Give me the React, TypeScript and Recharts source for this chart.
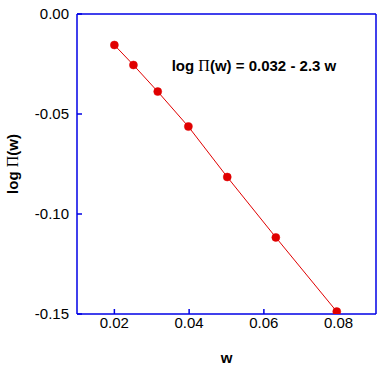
import React from 'react';
import { LineChart, Line, XAxis, YAxis, Label, Customized } from 'recharts';

const wValues = [0.02, 0.0251, 0.0316, 0.0398, 0.0502, 0.0632, 0.0795];
const logPiValues = [-0.0155, -0.0255, -0.0388, -0.0563, -0.0815, -0.1117, -0.1488];
const xTicks = [0.02, 0.04, 0.06, 0.08];
const yTicks = [-0.15, -0.1, -0.05, 0];
const xDomain = [0.01, 0.09];
const yDomain = [-0.15, 0];

const data = wValues.map((w, i) => ({ w, logPi: logPiValues[i] }));

const AXIS = '#0000e6';
const RED = '#e00000';
const FONT = '"Liberation Sans", Arial, Helvetica, sans-serif';
const SERIF = '"Liberation Serif", "Times New Roman", serif';

const tickStyle = { fill: '#000', fontSize: 15, fontFamily: FONT };
const fmt = (v: number) => v.toFixed(2);

const YLabel = (props: any) => {
  const vb = props.viewBox || { x: 0, y: 14, width: 77, height: 300 };
  const cx = 17.5;
  const cy = vb.y + vb.height / 2;
  return (
    <text
      x={cx}
      y={cy}
      transform={`rotate(-90 ${cx} ${cy})`}
      textAnchor="middle"
      fontFamily={FONT}
      fontWeight="bold"
      fontSize={15}
      fill="#000"
    >
      log <tspan fontFamily={SERIF} fontWeight="normal" fontSize={16}>Π</tspan>(w)
    </text>
  );
};

const Annotation = () => (
  <text x={171.7} y={70.5} fontFamily={FONT} fontWeight="bold" fontSize={15} fill="#000">
    log <tspan fontFamily={SERIF} fontWeight="normal" fontSize={16}>Π</tspan>(w) = 0.032 - 2.3 w
  </text>
);

export default function App() {
  return (
    <div style={{ position: 'fixed', left: 0, top: 0, width: 380, height: 371, background: '#fff' }}>
      <LineChart width={380} height={371} data={data} margin={{ top: 13, right: 3, bottom: 0, left: 0 }}>
        <XAxis
          xAxisId="b"
          dataKey="w"
          type="number"
          domain={xDomain}
          allowDataOverflow
          ticks={xTicks}
          tickFormatter={fmt}
          orientation="bottom"
          height={57}
          tickSize={-5}
          tickMargin={8}
          tick={tickStyle}
          axisLine={{ stroke: AXIS, strokeWidth: 1.5 }}
          tickLine={{ stroke: AXIS, strokeWidth: 1.5 }}
        >
          <Label
            value="w"
            position="insideBottom"
            offset={8}
            style={{ fontFamily: FONT, fontWeight: 'bold', fontSize: 15, fill: '#000' }}
          />
        </XAxis>
        <XAxis
          xAxisId="t"
          dataKey="w"
          type="number"
          domain={xDomain}
          allowDataOverflow
          ticks={xTicks}
          orientation="top"
          height={1}
          tickSize={-5}
          tick={false}
          axisLine={{ stroke: AXIS, strokeWidth: 1.5 }}
          tickLine={{ stroke: AXIS, strokeWidth: 1.5 }}
        />
        <YAxis
          yAxisId="l"
          type="number"
          domain={yDomain}
          allowDataOverflow
          ticks={yTicks}
          tickFormatter={fmt}
          orientation="left"
          width={77}
          tickSize={-5}
          tickMargin={13}
          tick={tickStyle}
          axisLine={{ stroke: AXIS, strokeWidth: 1.5 }}
          tickLine={{ stroke: AXIS, strokeWidth: 1.5 }}
        >
          <Label content={YLabel} />
        </YAxis>
        <YAxis
          yAxisId="r"
          type="number"
          domain={yDomain}
          allowDataOverflow
          ticks={yTicks}
          orientation="right"
          width={1}
          tickSize={-5}
          tick={false}
          axisLine={{ stroke: AXIS, strokeWidth: 1.5 }}
          tickLine={{ stroke: AXIS, strokeWidth: 1.5 }}
        />
        <Line
          xAxisId="b"
          yAxisId="l"
          dataKey="logPi"
          stroke={RED}
          strokeWidth={1}
          dot={{ r: 4, fill: RED, stroke: RED, strokeWidth: 0.5 }}
          activeDot={false}
          isAnimationActive={false}
        />
        <Line
          xAxisId="t"
          yAxisId="r"
          dataKey="logPi"
          stroke="none"
          dot={false}
          activeDot={false}
          legendType="none"
          isAnimationActive={false}
        />
        <Customized component={Annotation} />
      </LineChart>
    </div>
  );
}
